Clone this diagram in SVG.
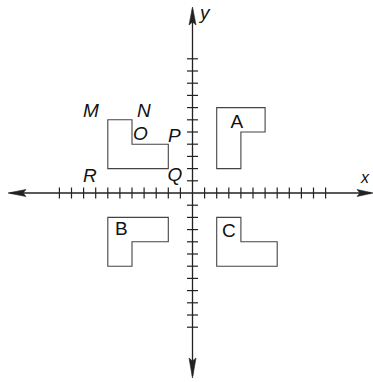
<svg xmlns="http://www.w3.org/2000/svg" width="373" height="382" viewBox="0 0 373 382">
<style>
.axis{stroke:#222;stroke-width:1.3;fill:none}
.tick{stroke:#222;stroke-width:1.2}
.shape{stroke:#444;stroke-width:1.1;fill:none}
.head{fill:#222;stroke:#222;stroke-width:0.6}
.lbl{font-family:"Liberation Sans",Arial,sans-serif;font-size:19px;fill:#111}
.it{font-style:italic}
</style>
<rect width="373" height="382" fill="#fff"/>
<g id="axes">
<line class="axis" x1="10" y1="193" x2="371" y2="193"/>
<line class="axis" x1="192.5" y1="9" x2="192.5" y2="376"/>
<polygon class="head" points="373,193 357,189.5 360,193 357,196.5"/>
<polygon class="head" points="8,193 26,189.5 23,193 26,196.5"/>
<polygon class="head" points="192.5,7 189,25 192.5,22 196,25"/>
<polygon class="head" points="192.5,378 189,358 192.5,361 196,358"/>
<g id="xticks" class="tick">
<line x1="204.6" y1="187.5" x2="204.6" y2="198.5"/>
<line x1="216.7" y1="187.5" x2="216.7" y2="198.5"/>
<line x1="228.8" y1="187.5" x2="228.8" y2="198.5"/>
<line x1="240.9" y1="187.5" x2="240.9" y2="198.5"/>
<line x1="253" y1="187.5" x2="253" y2="198.5"/>
<line x1="265.1" y1="187.5" x2="265.1" y2="198.5"/>
<line x1="277.2" y1="187.5" x2="277.2" y2="198.5"/>
<line x1="289.3" y1="187.5" x2="289.3" y2="198.5"/>
<line x1="301.4" y1="187.5" x2="301.4" y2="198.5"/>
<line x1="313.5" y1="187.5" x2="313.5" y2="198.5"/>
<line x1="325.6" y1="187.5" x2="325.6" y2="198.5"/>
<line x1="180.4" y1="187.5" x2="180.4" y2="198.5"/>
<line x1="168.3" y1="187.5" x2="168.3" y2="198.5"/>
<line x1="156.2" y1="187.5" x2="156.2" y2="198.5"/>
<line x1="144.1" y1="187.5" x2="144.1" y2="198.5"/>
<line x1="132" y1="187.5" x2="132" y2="198.5"/>
<line x1="119.9" y1="187.5" x2="119.9" y2="198.5"/>
<line x1="107.8" y1="187.5" x2="107.8" y2="198.5"/>
<line x1="95.7" y1="187.5" x2="95.7" y2="198.5"/>
<line x1="83.6" y1="187.5" x2="83.6" y2="198.5"/>
<line x1="71.5" y1="187.5" x2="71.5" y2="198.5"/>
<line x1="59.4" y1="187.5" x2="59.4" y2="198.5"/>
</g>
<g id="yticks" class="tick">
<line x1="187" y1="180.8" x2="198" y2="180.8"/>
<line x1="187" y1="168.6" x2="198" y2="168.6"/>
<line x1="187" y1="156.4" x2="198" y2="156.4"/>
<line x1="187" y1="144.2" x2="198" y2="144.2"/>
<line x1="187" y1="132" x2="198" y2="132"/>
<line x1="187" y1="119.8" x2="198" y2="119.8"/>
<line x1="187" y1="107.6" x2="198" y2="107.6"/>
<line x1="187" y1="95.4" x2="198" y2="95.4"/>
<line x1="187" y1="83.2" x2="198" y2="83.2"/>
<line x1="187" y1="71" x2="198" y2="71"/>
<line x1="187" y1="58.8" x2="198" y2="58.8"/>
<line x1="187" y1="205.2" x2="198" y2="205.2"/>
<line x1="187" y1="217.4" x2="198" y2="217.4"/>
<line x1="187" y1="229.6" x2="198" y2="229.6"/>
<line x1="187" y1="241.8" x2="198" y2="241.8"/>
<line x1="187" y1="254" x2="198" y2="254"/>
<line x1="187" y1="266.2" x2="198" y2="266.2"/>
<line x1="187" y1="278.4" x2="198" y2="278.4"/>
<line x1="187" y1="290.6" x2="198" y2="290.6"/>
<line x1="187" y1="302.8" x2="198" y2="302.8"/>
<line x1="187" y1="315" x2="198" y2="315"/>
<line x1="187" y1="327.2" x2="198" y2="327.2"/>
</g>
<text class="lbl it" x="200" y="19">y</text>
<text class="lbl it" x="361" y="183" style="font-size:16px">x</text>
</g>
<g id="shape-A">
<polygon class="shape" points="216.7,107.6 265.1,107.6 265.1,132 240.9,132 240.9,168.6 216.7,168.6"/>
<text class="lbl" x="230.5" y="128">A</text>
</g>
<g id="shape-MNOPQR">
<polygon class="shape" points="107.8,119.8 132,119.8 132,144.2 168.3,144.2 168.3,168.6 107.8,168.6"/>
<text class="lbl it" x="83" y="116.5">M</text>
<text class="lbl it" x="137" y="116.5">N</text>
<text class="lbl it" x="133" y="140">O</text>
<text class="lbl it" x="168" y="141.5">P</text>
<text class="lbl it" x="167.5" y="180.5">Q</text>
<text class="lbl it" x="83" y="182">R</text>
</g>
<g id="shape-B">
<polygon class="shape" points="107.8,217.4 168.3,217.4 168.3,241.8 132,241.8 132,266.2 107.8,266.2"/>
<text class="lbl" x="115" y="235">B</text>
</g>
<g id="shape-C">
<polygon class="shape" points="216.7,217.4 240.9,217.4 240.9,241.8 277.2,241.8 277.2,266.2 216.7,266.2"/>
<text class="lbl" x="222" y="236.5">C</text>
</g>
</svg>
